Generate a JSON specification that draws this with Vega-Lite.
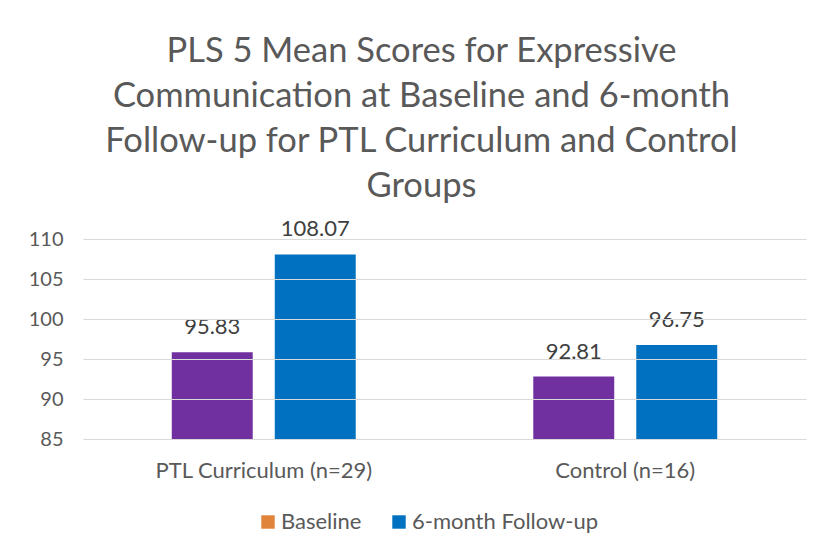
{
  "$schema": "https://vega.github.io/schema/vega-lite/v6.json",
  "width": 723,
  "height": 200,
  "autosize": {"type": "none"},
  "padding": {"left": 83, "top": 239, "right": 16, "bottom": 120},
  "background": "white",
  "title": {
    "text": ["PLS 5 Mean Scores for Expressive", "Communication at Baseline and 6-month", "Follow-up for PTL Curriculum and Control", "Groups"],
    "anchor": "middle",
    "dx": -23,
    "offset": 14,
    "font": "Lato",
    "fontSize": 34.5,
    "fontWeight": "normal",
    "lineHeight": 45,
    "color": "#595959"
  },
  "data": {
    "values": [
      {"group": "PTL Curriculum (n=29)", "time": "Baseline", "value": 95.83},
      {"group": "PTL Curriculum (n=29)", "time": "6-month Follow-up", "value": 108.07},
      {"group": "Control (n=16)", "time": "Baseline", "value": 92.81},
      {"group": "Control (n=16)", "time": "6-month Follow-up", "value": 96.75}
    ]
  },
  "encoding": {
    "x": {
      "field": "group", "type": "nominal", "sort": ["PTL Curriculum (n=29)", "Control (n=16)"],
      "scale": {"paddingInner": 0, "paddingOuter": 0},
      "axis": {"title": null, "labelAngle": 0, "labelLimit": 0, "domain": false, "ticks": false, "labelPadding": 21, "labelFont": "Lato", "labelFontSize": 22, "labelColor": "#595959"}
    },
    "xOffset": {
      "field": "time", "type": "nominal", "sort": ["Baseline", "6-month Follow-up"],
      "scale": {"paddingInner": 0.214, "paddingOuter": 0.862}
    },
    "y": {
      "field": "value", "type": "quantitative",
      "scale": {"domain": [85, 110], "nice": false, "zero": false},
      "axis": {"title": null, "values": [85, 90, 95, 100, 105, 110], "domain": false, "ticks": false, "labelPadding": 20, "labelFont": "Lato", "labelFontSize": 20, "labelColor": "#595959", "gridColor": "#D9D9D9", "gridWidth": 1.2, "zindex": 1}
    }
  },
  "layer": [
    {
      "mark": {"type": "bar", "clip": true},
      "encoding": {
        "y2": {"field": "value"},
        "fill": {
          "field": "time", "type": "nominal",
          "scale": {"domain": ["Baseline", "6-month Follow-up"], "range": ["#E0843C", "#0070C0"]},
          "legend": {
            "title": null, "orient": "none", "direction": "horizontal",
            "legendX": 174, "legendY": 272,
            "symbolType": "square", "symbolSize": 180, "symbolStrokeWidth": 0,
            "labelFont": "Lato", "labelFontSize": 22, "labelColor": "#595959", "labelOffset": 2, "labelLimit": 0,
            "columnPadding": 26
          }
        }
      }
    },
    {
      "mark": {"type": "bar", "clip": true},
      "encoding": {
        "color": {
          "field": "time", "type": "nominal",
          "scale": {"domain": ["Baseline", "6-month Follow-up"], "range": ["#7030A0", "#0070C0"]},
          "legend": null
        }
      }
    },
    {
      "mark": {"type": "text", "baseline": "alphabetic", "dy": -18, "font": "Lato", "fontSize": 22, "color": "#404040"},
      "encoding": {"text": {"field": "value", "type": "quantitative", "format": ".2f"}}
    }
  ],
  "config": {"view": {"stroke": null}}
}
